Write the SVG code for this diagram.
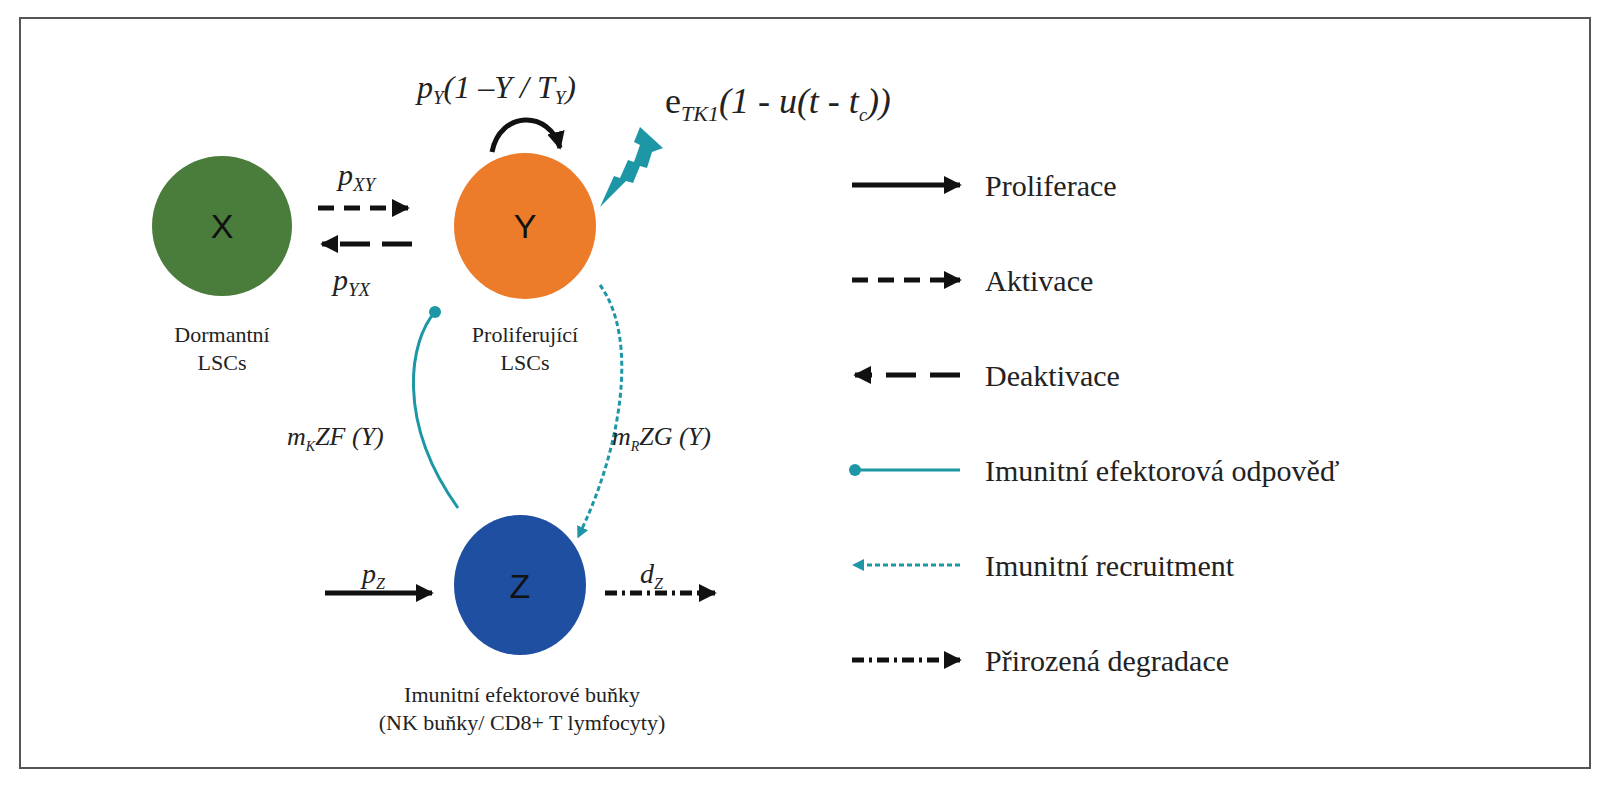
<svg xmlns="http://www.w3.org/2000/svg" width="1610" height="800" viewBox="0 0 1610 800">
<style>
.t{font-family:"Liberation Serif",serif;fill:#222}
.i{font-style:italic}
.lbl{font-family:"Liberation Sans",sans-serif;font-size:34px;fill:#111;text-anchor:middle}
.k{stroke:#111;stroke-width:5;fill:none}
.c{stroke:#1d97a6;stroke-width:3;fill:none}
</style>
<defs>
<marker id="ah" viewBox="0 0 10 10" refX="9" refY="5" markerWidth="3.6" markerHeight="3.6" orient="auto"><path d="M0,0L10,5L0,10z" fill="#111"/></marker>
<marker id="ahc" viewBox="0 0 10 10" refX="5" refY="5" markerWidth="4" markerHeight="4" orient="auto"><path d="M0,0L10,5L0,10z" fill="#1d97a6"/></marker>
<marker id="dot" viewBox="0 0 10 10" refX="5" refY="5" markerWidth="4" markerHeight="4"><circle cx="5" cy="5" r="5" fill="#1d97a6"/></marker>
</defs>
<rect x="20" y="18" width="1570" height="750" fill="#fff" stroke="#555" stroke-width="2"/>
<g id="nodeX"><circle cx="222" cy="226" r="70" fill="#4a7c3c"/><text class="lbl" x="222" y="238">X</text>
<text class="t" x="222" y="342" font-size="22" text-anchor="middle">Dormantní</text><text class="t" x="222" y="370" font-size="22" text-anchor="middle">LSCs</text></g>
<g id="nodeY"><ellipse cx="525" cy="226" rx="71" ry="73" fill="#ec7b2a"/><text class="lbl" x="525" y="238">Y</text>
<text class="t" x="525" y="342" font-size="22" text-anchor="middle">Proliferující</text><text class="t" x="525" y="370" font-size="22" text-anchor="middle">LSCs</text></g>
<g id="nodeZ"><ellipse cx="520" cy="585" rx="66" ry="70" fill="#1f4fa0"/><text class="lbl" x="520" y="598">Z</text>
<text class="t" x="522" y="702" font-size="22" text-anchor="middle">Imunitní efektorové buňky</text><text class="t" x="522" y="730" font-size="22" text-anchor="middle">(NK buňky/ CD8+ T lymfocyty)</text></g>
<g id="connectors">
<path class="k" d="M318,208H408" stroke-dasharray="16,10" marker-end="url(#ah)"/>
<path class="k" d="M412,244H322" stroke-dasharray="30,12" marker-end="url(#ah)"/>
<path class="k" d="M492,152C500,110 550,110 560,148" stroke-width="7" marker-end="url(#ah)"/>
<path d="M640,127L663,148L652,152L647,168L640,166L633,183L626,181L600,207L614,176L620,178L628,160L634,162L640,145L634,142z" fill="#1d97a6"/>
<path class="c" d="M458,508C395,420 410,340 435,312" marker-end="url(#dot)"/>
<path class="c" d="M600,285C640,340 620,450 580,533" stroke-dasharray="5,3" marker-end="url(#ahc)"/>
<path class="k" d="M325,593H432" marker-end="url(#ah)"/>
<path class="k" d="M605,593H715" stroke-dasharray="12,5,3,5" marker-end="url(#ah)"/>
</g>
<g id="labels">
<text class="t i" x="338" y="185" font-size="30">p<tspan font-size="19" dy="6">XY</tspan></text>
<text class="t i" x="333" y="290" font-size="30">p<tspan font-size="19" dy="6">YX</tspan></text>
<text class="t i" x="417" y="98" font-size="32">p<tspan font-size="19" dy="6">Y</tspan><tspan dy="-6">(1 –Y / T</tspan><tspan font-size="19" dy="6">Y</tspan><tspan dy="-6">)</tspan></text>
<text class="t" x="665" y="113" font-size="36">e<tspan class="i" font-size="22" dy="8">TK1</tspan><tspan class="i" dy="-8">(1 - u(t - t</tspan><tspan class="i" font-size="18" dy="8">c</tspan><tspan class="i" dy="-8">))</tspan></text>
<text class="t i" x="287" y="445" font-size="26">m<tspan font-size="14" dy="6">K</tspan><tspan dy="-6">ZF (Y)</tspan></text>
<text class="t i" x="612" y="445" font-size="26">m<tspan font-size="14" dy="6">R</tspan><tspan dy="-6">ZG (Y)</tspan></text>
<text class="t i" x="362" y="583" font-size="28">p<tspan font-size="16" dy="6">Z</tspan></text>
<text class="t i" x="640" y="583" font-size="28">d<tspan font-size="16" dy="6">Z</tspan></text>
</g>
<g id="legend">
<path class="k" d="M852,185H960" marker-end="url(#ah)"/><text class="t" x="985" y="196" font-size="30">Proliferace</text>
<path class="k" d="M852,280H960" stroke-dasharray="16,10" marker-end="url(#ah)"/><text class="t" x="985" y="291" font-size="30">Aktivace</text>
<path class="k" d="M960,375H855" stroke-dasharray="30,14" marker-end="url(#ah)"/><text class="t" x="985" y="386" font-size="30">Deaktivace</text>
<path class="c" d="M960,470H855" marker-end="url(#dot)"/><text class="t" x="985" y="481" font-size="30">Imunitní efektorová odpověď</text>
<path class="c" d="M960,565H858" stroke-dasharray="5,3" marker-end="url(#ahc)"/><text class="t" x="985" y="576" font-size="30">Imunitní recruitment</text>
<path class="k" d="M852,660H960" stroke-dasharray="12,5,3,5" marker-end="url(#ah)"/><text class="t" x="985" y="671" font-size="30">Přirozená degradace</text>
</g>
</svg>
